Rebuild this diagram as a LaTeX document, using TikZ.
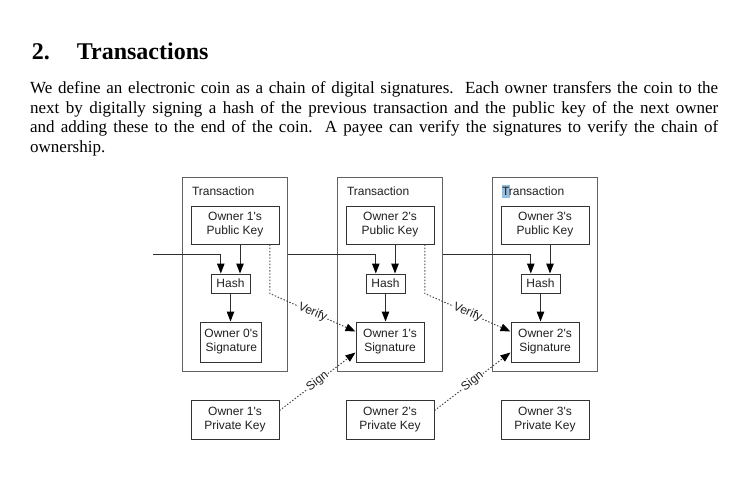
\documentclass[tikz,border=0pt]{standalone}
\usepackage{fontspec}
\setmainfont{Liberation Serif}
\newfontfamily\diagfont{Liberation Sans}
\usetikzlibrary{arrows.meta,calc}
\newcommand\bodyline[1]{\makebox[688pt][s]{#1}}
\definecolor{hilite}{RGB}{150,190,222}
\begin{document}
\begin{tikzpicture}[x=1pt,y=-1pt,
  txbox/.style={draw=black!62, line width=1pt, inner sep=0pt},
  kbox/.style={draw=black!80, line width=1pt, inner sep=0pt, align=center,
    font=\diagfont\fontsize{12}{14}\selectfont, text=black!88},
  txlabel/.style={anchor=base west, inner sep=0pt, font=\diagfont\fontsize{12}{14}\selectfont, text=black!88},
  arr/.style={draw=black!82, line width=1pt, -{Triangle[length=10pt,width=7.5pt,color=black,fill=black]}},
  dotline/.style={draw=black!72, line width=1pt, dash pattern=on 1.4pt off 1.8pt,
    -{Triangle[length=10pt,width=7.5pt,color=black,fill=black]}},
  lbl/.style={sloped, midway, fill=white, inner sep=0.8pt, font=\diagfont\fontsize{12}{14}\selectfont, text=black!88},
  bodytext/.style={anchor=base west, inner sep=0pt, font=\fontsize{17}{19.5}\selectfont}
]
\useasboundingbox (0,0) rectangle (750,500);

% heading
\node[anchor=base west, inner sep=0pt, font=\fontsize{24}{28}\selectfont\bfseries] (hnum) at (31.7,60) {2.};
\node[anchor=base west, inner sep=0pt, font=\fontsize{24}{28}\selectfont\bfseries] (htitle) at (76.7,60) {Transactions};

% body
\node[bodytext] (l1) at (30,94) {\bodyline{We define an electronic coin as a chain of digital signatures.\ \ Each owner transfers the coin to the}};
\node[bodytext] (l2) at (30,113.5) {\bodyline{next by digitally signing a hash of the previous transaction and the public key of the next owner}};
\node[bodytext] (l3) at (30,133) {\bodyline{and adding these to the end of the coin.\ \ A payee can verify the signatures to verify the chain of}};
\node[bodytext] (l4) at (30,152.5) {ownership.};

% transaction boxes
\foreach \i/\x in {1/182, 2/337, 3/492} {
  \node[txbox, minimum width=105pt, minimum height=193.5pt] (tx\i) at (\x+52.5, 274.25) {};
}
\fill[hilite] (502,185) rectangle (509.5,198);
\foreach \i in {1,2,3} {
  \node[txlabel] (txl\i) at ($(tx\i.north west)+(10.3,18.7)$) {Transaction};
}

% key boxes
\node[kbox, minimum width=88pt, minimum height=38pt] (pub1) at (235,225) {Owner 1's\\Public Key};
\node[kbox, minimum width=88pt, minimum height=38pt] (pub2) at (390,225) {Owner 2's\\Public Key};
\node[kbox, minimum width=88pt, minimum height=38pt] (pub3) at (545,225) {Owner 3's\\Public Key};

\node[kbox, minimum width=39pt, minimum height=19pt] (hash1) at (230.5,283.5) {Hash};
\node[kbox, minimum width=39pt, minimum height=19pt] (hash2) at (385.5,283.5) {Hash};
\node[kbox, minimum width=39pt, minimum height=19pt] (hash3) at (540.5,283.5) {Hash};

\node[kbox, minimum width=61pt, minimum height=40pt] (sig1) at (231.3,342) {Owner 0's\\Signature};
\node[kbox, minimum width=68pt, minimum height=40pt] (sig2) at (390,342) {Owner 1's\\Signature};
\node[kbox, minimum width=68pt, minimum height=40pt] (sig3) at (545,342) {Owner 2's\\Signature};

\node[kbox, minimum width=88pt, minimum height=39pt] (priv1) at (235,419.5) {Owner 1's\\Private Key};
\node[kbox, minimum width=88pt, minimum height=39pt] (priv2) at (390,419.5) {Owner 2's\\Private Key};
\node[kbox, minimum width=88pt, minimum height=39pt] (priv3) at (545,419.5) {Owner 3's\\Private Key};

% chain arrows
\coordinate (c0) at (153,254);
\foreach \i in {1,2,3} {
  \coordinate (hL\i) at ($(hash\i.north)+(-9.7,0)$);
  \coordinate (hR\i) at ($(hash\i.north)+(9.5,0)$);
  \draw[arr] (pub\i.south -| hR\i) -- (hR\i);
  \draw[arr] (hash\i.south) -- (hash\i.south |- sig\i.north);
}
\draw[arr] (c0) -| (hL1);
\draw[arr] (tx1.east |- c0) -| (hL2);
\draw[arr] (tx2.east |- c0) -| (hL3);

% verify
\foreach \i/\j in {1/2, 2/3} {
  \coordinate (va\i) at ($(pub\i.south east)+(-9.7,0)$);
  \coordinate (vb\i) at (va\i |- hash\i.south);
  \coordinate (vt\i) at ($(sig\j.north west)+(0,10)$);
  \draw[dotline] (va\i) -- (vb\i) -- node[lbl] {Verify} (vt\i);
  \coordinate (sa\i) at ($(priv\i.north east)+(0,11)$);
  \coordinate (st\i) at ($(sig\j.south west)+(0,-10)$);
  \draw[dotline] (sa\i) -- node[lbl] {Sign} (st\i);
}
\end{tikzpicture}
\end{document}
